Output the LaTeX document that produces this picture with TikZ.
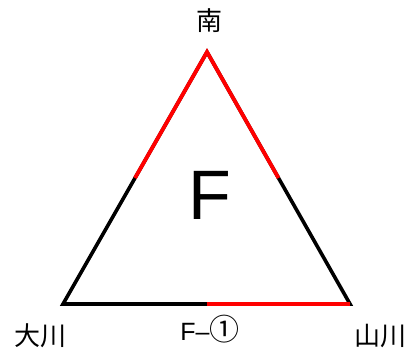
\documentclass[tikz,border=0pt]{standalone}
\usepackage{fontspec}
\setmainfont{Liberation Sans}
\newfontfamily\cjk{Noto Sans CJK JP}
\usetikzlibrary{calc}
\tikzset{
  side/.style  = {draw=black, line width=3.6pt, miter limit=10},
  hot/.style   = {draw=red, line width=3.8pt},
  place/.style = {font=\cjk\fontsize{26}{26}\selectfont, inner sep=0pt},
  tag/.style   = {font=\fontsize{25}{25}\selectfont, inner sep=0pt},
  face/.style  = {font=\fontsize{70}{70}\selectfont, inner sep=0pt},
}

\begin{document}
\begin{tikzpicture}[x=1pt,y=1pt]
  \useasboundingbox (0,0) rectangle (411,351);
  \coordinate (top) at (207,299);
  \coordinate (bl) at (63,47);
  \coordinate (br) at (350,47);
  \draw[side] (top) -- (bl) -- (br) -- cycle;
  \draw[hot] ($(top)!0.5!(bl)$) -- (top) -- ($(top)!0.5!(br)$);
  \draw[hot] ($(bl)!0.5!(br)$) -- (br);
  \node[place] (south) at (209,330) {南};
  \node[place] (okawa) at (40,15) {大川};
  \node[place] (yamakawa) at (380,15) {山川};
  \node[tag] (label) at (210,22) {F–{\cjk\fontsize{30}{30}\selectfont ①}};
  \node[face] (face) at (210,156) {F};
\end{tikzpicture}
\end{document}
